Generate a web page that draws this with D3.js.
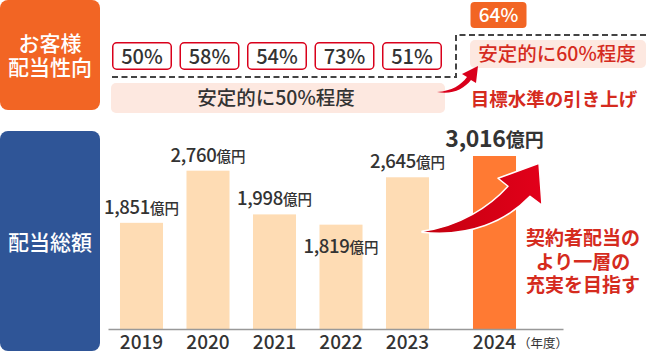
<!DOCTYPE html>
<html>
<head>
<meta charset="utf-8">
<script src="https://cdn.jsdelivr.net/npm/d3@7"></script>
<style>
  html, body { margin: 0; padding: 0; background: #fff; }
  svg { display: block; font-family: "Noto Sans CJK JP", "Noto Sans", sans-serif; }
</style>
</head>
<body>
<div id="chart"></div>
<script>
// data
const years = ["2019", "2020", "2021", "2022", "2023", "2024"];
const dividends = [1851, 2760, 1998, 1819, 2645, 3016];   // 億円
const payoutRatios = [50, 58, 54, 73, 51];                 // %, 2019-2023
const targetRatio = 64;                                    // %, 2024
const oldTarget = "安定的に50%程度";
const newTarget = "安定的に60%程度";
const raiseNote = "目標水準の引き上げ";
const aimLines = ["契約者配当の", "より一層の", "充実を目指す"];
const unit = "億円";

const W = 646, H = 353;
const red = "#d9001b", textDark = "#333";

const svg = d3.select("#chart").append("svg")
    .attr("width", W)
    .attr("height", H);

const defs = svg.append("defs");
const grad = defs.append("linearGradient")
    .attr("id", "arrowGrad")
    .attr("x1", "0%").attr("y1", "0%").attr("x2", "100%").attr("y2", "0%");
grad.append("stop").attr("offset", "0%").attr("stop-color", "#c4000f");
grad.append("stop").attr("offset", "100%").attr("stop-color", "#e2001a");

// side headers
svg.append("rect").attr("x", 0).attr("y", 0).attr("width", 100).attr("height", 110)
    .attr("rx", 8).attr("fill", "#f26524");
svg.append("text").attr("x", 50).attr("y", 51).attr("text-anchor", "middle")
    .attr("fill", "#fff").attr("font-size", 21).attr("font-weight", 500).text("お客様");
svg.append("text").attr("x", 50).attr("y", 75).attr("text-anchor", "middle")
    .attr("fill", "#fff").attr("font-size", 21).attr("font-weight", 500).text("配当性向");

svg.append("rect").attr("x", 0).attr("y", 131).attr("width", 100).attr("height", 220)
    .attr("rx", 8).attr("fill", "#2f5597");
svg.append("text").attr("x", 50).attr("y", 250).attr("text-anchor", "middle")
    .attr("fill", "#fff").attr("font-size", 21).attr("font-weight", 500).text("配当総額");

// scales
const x = d3.scaleBand()
    .domain(years)
    .range([108.25, 507.25])
    .paddingInner(0.353)
    .paddingOuter(0.1765);
const bw = x.bandwidth();
const highlight = years[years.length - 1];
const xPos = d => x(d) + (d === highlight ? 20.5 : 0);

const baseY = 329;
const y = d3.scaleLinear()
    .domain([0, d3.max(dividends)])
    .range([baseY, 156]);

const bars = years.map((yr, i) => ({ year: yr, value: dividends[i] }));

// bars
svg.append("g").selectAll("rect")
    .data(bars)
    .join("rect")
    .attr("x", d => xPos(d.year))
    .attr("y", d => y(d.value))
    .attr("width", bw)
    .attr("height", d => baseY - y(d.value))
    .attr("fill", d => d.year === highlight ? "#ff7a33" : "#fedcb4");

// baseline axis
const axis = svg.append("g")
    .attr("transform", `translate(0,${baseY})`)
    .call(d3.axisBottom(d3.scaleLinear().domain([0, 1]).range([108, 563])).ticks(0).tickSize(0));
axis.select(".domain").attr("stroke", "#999").attr("stroke-width", 1.5);

// year labels
svg.append("g").selectAll("text")
    .data(bars)
    .join("text")
    .attr("x", d => xPos(d.year) + bw / 2)
    .attr("y", 349)
    .attr("text-anchor", "middle")
    .attr("fill", textDark)
    .attr("font-size", 19)
    .attr("font-weight", 500)
    .text(d => d.year);
svg.append("text")
    .attr("x", xPos(highlight) + bw + 2).attr("y", 348)
    .attr("fill", textDark).attr("font-size", 12.5)
    .text("（年度）");

// value labels
const fmt = d3.format(",");
const labels = svg.append("g").selectAll("text")
    .data(bars)
    .join("text")
    .attr("x", d => xPos(d.year) + bw / 2)
    .attr("y", (d, i) => i === 3 ? y(d.value) + 28 : y(d.value) - 9)
    .attr("text-anchor", "middle")
    .attr("fill", textDark);
labels.append("tspan")
    .attr("font-size", d => d.year === highlight ? 23 : 18.5)
    .attr("font-weight", d => d.year === highlight ? 700 : 500)
    .attr("letter-spacing", -0.3)
    .text(d => fmt(d.value));
labels.append("tspan")
    .attr("font-size", d => d.year === highlight ? 19 : 14.5)
    .attr("font-weight", d => d.year === highlight ? 700 : 500)
    .text(unit);

// payout ratio boxes
const xr = d3.scaleBand()
    .domain(years.slice(0, payoutRatios.length))
    .range([112, 442])
    .paddingInner(0.111);
const ratioG = svg.append("g").selectAll("g")
    .data(payoutRatios)
    .join("g")
    .attr("transform", (d, i) => `translate(${xr(years[i])},42)`);
ratioG.append("rect")
    .attr("x", 0.75).attr("y", 0.75)
    .attr("width", xr.bandwidth() - 1.5).attr("height", 26.5)
    .attr("rx", 4)
    .attr("fill", "#fff").attr("stroke", red).attr("stroke-width", 1.5);
ratioG.append("text")
    .attr("x", xr.bandwidth() / 2).attr("y", 21.5)
    .attr("text-anchor", "middle")
    .attr("fill", textDark).attr("font-size", 20).attr("font-weight", 500)
    .text(d => d + "%");

// dashed boundary
svg.append("path")
    .attr("d", "M112,77 H456 V35 H646")
    .attr("fill", "none").attr("stroke", "#444")
    .attr("stroke-width", 2).attr("stroke-dasharray", "6,3.5");

// old target band
svg.append("rect").attr("x", 111).attr("y", 83).attr("width", 334).attr("height", 30)
    .attr("rx", 5).attr("fill", "#fde8e0");
svg.append("text").attr("x", 276).attr("y", 105).attr("text-anchor", "middle")
    .attr("fill", textDark).attr("font-size", 19.5).attr("font-weight", 500).text(oldTarget);

// target 64% box
const tx = xPos(highlight) + bw / 2 + 4;
svg.append("rect").attr("x", tx - 28).attr("y", 2).attr("width", 56).attr("height", 26)
    .attr("rx", 4).attr("fill", "#f26524");
svg.append("text").attr("x", tx).attr("y", 22).attr("text-anchor", "middle")
    .attr("fill", "#fff").attr("font-size", 19).attr("font-weight", 500).text(targetRatio + "%");

// new target band
svg.append("rect").attr("x", 470).attr("y", 40).attr("width", 176).attr("height", 28)
    .attr("rx", 5).attr("fill", "#fde8e0");
svg.append("text").attr("x", 557).attr("y", 61).attr("text-anchor", "middle")
    .attr("fill", "#d52b1e").attr("font-size", 19.5).attr("font-weight", 500).text(newTarget);

svg.append("text").attr("x", 554).attr("y", 106).attr("text-anchor", "middle")
    .attr("fill", "#d52b1e").attr("font-size", 18.5).attr("font-weight", 700).text(raiseNote);

// small curved arrow
svg.append("path")
    .attr("d", "M437,92 C452,91 461,85 467,77 L462,74 L478,66 L476,83 L471,80 C464,89 452,95 437,92 Z")
    .attr("fill", red);

// big curved arrow, anchored to the 2023 bar
const ax = x(years[4]) + bw - 7, ay = y(dividends[4]) + 54;
svg.append("path")
    .attr("transform", `translate(${ax},${ay})`)
    .attr("d", "M0,0 C38,-5 68,-25 86,-45 L76,-53 L117,-68 L120,-26 L108,-35 C84,-10 48,6 0,1 Z")
    .attr("fill", "url(#arrowGrad)")
    .attr("stroke", "#fff").attr("stroke-width", 1.5).attr("stroke-linejoin", "round");

// aim text
svg.append("g").selectAll("text")
    .data(aimLines)
    .join("text")
    .attr("x", 583)
    .attr("y", (d, i) => 245 + i * 23.5)
    .attr("text-anchor", "middle")
    .attr("fill", "#d52b1e")
    .attr("font-size", 19)
    .attr("font-weight", 700)
    .text(d => d);
</script>
</body>
</html>
